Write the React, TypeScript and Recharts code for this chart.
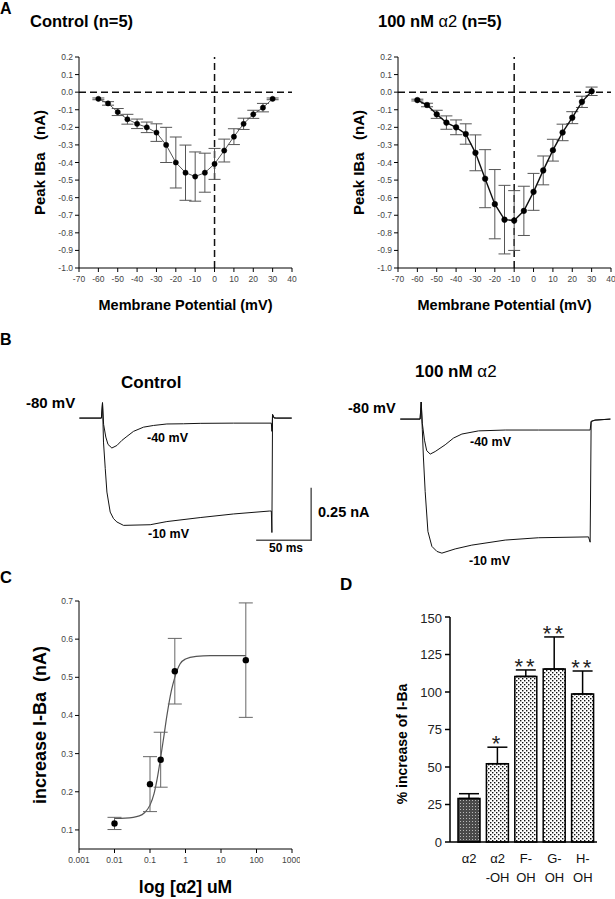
import React from 'react';
import {
  LineChart,
  ComposedChart,
  Line,
  Bar,
  Cell,
  Scatter,
  XAxis,
  YAxis,
  ReferenceLine,
  ErrorBar,
  LabelList,
} from 'recharts';

// ---- Panel A: I-V curves ----
const voltages = [-60, -55, -50, -45, -40, -35, -30, -25, -20, -15, -10, -5, 0, 5, 10, 15, 20, 25, 30];
const controlPeak = [-0.038, -0.064, -0.113, -0.154, -0.18, -0.2, -0.23, -0.3, -0.4, -0.458, -0.48, -0.458, -0.408, -0.332, -0.253, -0.18, -0.126, -0.088, -0.038];
const controlSem = [0.005, 0.01, 0.02, 0.028, 0.027, 0.03, 0.05, 0.1, 0.145, 0.157, 0.14, 0.111, 0.088, 0.065, 0.045, 0.032, 0.023, 0.024, 0.005];
const alphaPeak = [-0.045, -0.073, -0.126, -0.173, -0.2, -0.238, -0.345, -0.492, -0.637, -0.725, -0.73, -0.675, -0.567, -0.445, -0.33, -0.229, -0.145, -0.055, 0.005];
const alphaSem = [0.005, 0.01, 0.023, 0.038, 0.042, 0.058, 0.102, 0.165, 0.197, 0.195, 0.17, 0.14, 0.105, 0.082, 0.062, 0.047, 0.034, 0.032, 0.024];
const ivTicksX = [-70, -60, -50, -40, -30, -20, -10, 0, 10, 20, 30, 40];
const ivTicksY = [0.2, 0.1, 0, -0.1, -0.2, -0.3, -0.4, -0.5, -0.6, -0.7, -0.8, -0.9, -1.0];

// ---- Panel B: current traces (ms, nA) ----
const ctlM40Time = [-21, -1, 0, 1, 3, 5, 8.5, 13.1, 17.6, 22.2, 28.2, 37.3, 46.4, 58.5, 73.7, 88.8, 119, 153.5, 154, 154.6, 156, 158, 172];
const ctlM40Curr = [0, 0, 0.073, -0.03, -0.09, -0.125, -0.142, -0.13, -0.106, -0.087, -0.063, -0.043, -0.035, -0.028, -0.027, -0.025, -0.024, -0.024, -0.063, 0.018, 0.002, 0, 0];
const ctlM10Time = [-21, -1, 0, 0.9, 2.5, 4, 7, 10, 13.1, 19.1, 43.4, 58.5, 88.8, 119, 151.8, 153.5, 154, 154.6, 156, 172];
const ctlM10Curr = [0, 0, 0.073, -0.114, -0.24, -0.351, -0.446, -0.477, -0.493, -0.509, -0.506, -0.491, -0.472, -0.455, -0.441, -0.441, -0.543, 0.015, 0, 0];
const alpM40Time = [-19, -1, 0, 1, 3, 5, 8.2, 12.7, 21.8, 29.4, 37, 52.1, 76.4, 106.7, 153.6, 154.5, 158, 172];
const alpM40Curr = [0, 0, 0.081, -0.02, -0.1, -0.15, -0.166, -0.154, -0.122, -0.09, -0.071, -0.056, -0.052, -0.052, -0.052, -0.011, -0.005, 0];
const alpM10Time = [-19, -1, 0, 1, 2, 3.6, 6.1, 9.7, 14.3, 18.8, 30.9, 46, 76.4, 106.7, 152.1, 153.6, 154.5, 158, 172];
const alpM10Curr = [0, 0, 0.081, -0.05, -0.18, -0.343, -0.533, -0.604, -0.628, -0.636, -0.616, -0.598, -0.574, -0.563, -0.559, -0.584, -0.011, -0.005, 0];
// scale bar: 50 ms x 0.25 nA
const scaleBarTime = [139.7, 189.7, 189.7];
const scaleBarCurr = [-0.58, -0.58, -0.33];

// ---- Panel C: dose response ----
const doses = [0.01, 0.1, 0.2, 0.5, 50];
const doseIncrease = [0.117, 0.22, 0.284, 0.516, 0.545];
const doseSem = [0.016, 0.072, 0.072, 0.086, 0.15];
const fitDoses = [0.01, 0.02, 0.05, 0.07, 0.1, 0.13, 0.16, 0.2, 0.25, 0.3, 0.4, 0.5, 0.7, 1, 2, 5, 50];
const fitIncrease = [0.13, 0.131, 0.137, 0.145, 0.165, 0.195, 0.235, 0.29, 0.35, 0.4, 0.465, 0.5, 0.535, 0.548, 0.555, 0.557, 0.557];
const doseTicks = [0.001, 0.01, 0.1, 1, 10, 100, 1000];
const doseYTicks = [0.1, 0.2, 0.3, 0.4, 0.5, 0.6, 0.7];

// ---- Panel D: bar chart ----
const compounds = ['α2', 'α2\n-OH', 'F-\nOH', 'G-\nOH', 'H-\nOH'];
const pctIncrease = [29, 52.2, 110.4, 115.3, 98.7];
const pctSem = [3.2, 11, 4.3, 21.4, 15.3];
const significance = ['', '*', '**', '**', '**'];
const pctTicks = [0, 25, 50, 75, 100, 125, 150];

const FONT = '"Liberation Sans", Arial, Helvetica, sans-serif';

const ivControl = voltages.map((v, k) => ({ v, i: controlPeak[k], err: controlSem[k] }));
const ivAlpha = voltages.map((v, k) => ({ v, i: alphaPeak[k], err: alphaSem[k] }));
const zip = (t: number[], c: number[]) => t.map((tt, k) => ({ t: tt, i: c[k] }));
const doseData = doses.map((c, k) => ({ c, i: doseIncrease[k], err: doseSem[k] }));
const fitData = fitDoses.map((c, k) => ({ c, i: fitIncrease[k] }));
const barData = compounds.map((name, k) => ({
  name,
  pct: pctIncrease[k],
  errUp: [0, pctSem[k]],
  top: pctIncrease[k] + pctSem[k],
  stars: significance[k],
}));

const tickStyle = { fontSize: 8.5, fill: '#444' };
const axisLabel = { fontSize: 15, fontWeight: 'bold', fill: '#000' };

function IVPanel({ left, data, vLine, color, width, r }: any) {
  return (
    <div style={{ position: 'absolute', left, top: 47 }}>
      <LineChart width={300} height={266} data={data} margin={{ top: 10, right: 8, bottom: 0, left: 0 }}>
        <XAxis
          type="number"
          dataKey="v"
          domain={[-70, 40]}
          ticks={ivTicksX}
          tick={tickStyle}
          tickSize={4}
          tickMargin={4}
          height={45}
          axisLine={{ stroke: '#000' }}
          tickLine={{ stroke: '#000' }}
          label={{ value: 'Membrane Potential (mV)', position: 'insideBottom', offset: 3, ...axisLabel, fontSize: 14.5 }}
        />
        <YAxis
          type="number"
          domain={[-1, 0.2]}
          ticks={ivTicksY}
          tickFormatter={(t: number) => t.toFixed(1)}
          tick={tickStyle}
          tickSize={4}
          tickMargin={2}
          width={79}
          axisLine={{ stroke: '#000' }}
          tickLine={{ stroke: '#000' }}
          label={{ value: 'Peak IBa\u00a0\u00a0\u00a0(nA)', angle: -90, position: 'center', ...axisLabel }}
        />
        <ReferenceLine y={0} stroke="#111" strokeWidth={1.5} strokeDasharray="7 4" />
        <ReferenceLine x={vLine} stroke="#111" strokeWidth={1.5} strokeDasharray="7 4" />
        <Line
          dataKey="i"
          type="linear"
          stroke={color}
          strokeWidth={width}
          dot={{ r, fill: '#000', stroke: '#000', strokeWidth: 0.5 }}
          isAnimationActive={false}
        >
          <ErrorBar dataKey="err" direction="y" width={6} stroke="#555" strokeWidth={1} />
        </Line>
      </LineChart>
    </div>
  );
}

function TracePanel({ left, top, domain, traces, scaleBar }: any) {
  const pxPerMs = 1.1;
  const w = (domain[1] - domain[0]) * pxPerMs;
  const h = 0.8 * 210.8;
  return (
    <div style={{ position: 'absolute', left, top }}>
      <LineChart width={w} height={h} margin={{ top: 0, right: 0, bottom: 0, left: 0 }}>
        <XAxis type="number" dataKey="t" domain={domain} hide allowDataOverflow />
        <YAxis type="number" domain={[-0.7, 0.1]} hide allowDataOverflow />
        {traces.map((d: any, k: number) => (
          <Line key={k} data={d} dataKey="i" type="linear" stroke="#111" strokeWidth={1} dot={false} isAnimationActive={false} />
        ))}
        {scaleBar && (
          <Line data={scaleBar} dataKey="i" type="linear" stroke="#555" strokeWidth={1.5} dot={false} isAnimationActive={false} />
        )}
      </LineChart>
    </div>
  );
}

const CategoryTick = (props: any) => {
  const { x, y, payload } = props;
  const lines = String(payload.value).split('\n');
  return (
    <text x={x} y={y} textAnchor="middle" fontSize={13} fill="#111" fontFamily={FONT}>
      {lines.map((l, k) => (
        <tspan key={k} x={x} dy={k === 0 ? 20.5 : 19}>
          {l}
        </tspan>
      ))}
    </text>
  );
};

const StarLabel = (p: any) => {
  if (!p.value) return null;
  return (
    <text x={p.x} y={p.y + 4} textAnchor="middle" fontSize={22} letterSpacing={3} fill="#222" fontFamily={FONT}>
      {p.value}
    </text>
  );
};

export default function App() {
  const t = (x: number, y: number, s: string, size: number) => (
    <text x={x} y={y} fontSize={size} fontWeight="bold" fill="#000">
      {s}
    </text>
  );
  return (
    <div style={{ position: 'fixed', left: 0, top: 0, width: 615, height: 899, overflow: 'hidden', background: '#fff', fontFamily: FONT }}>
      <svg width={0} height={0} style={{ position: 'absolute' }}>
        <defs>
          <pattern id="dotsLight" width="4" height="4" patternUnits="userSpaceOnUse">
            <rect width="4" height="4" fill="#fff" />
            <rect x="0" y="0" width="1.4" height="1.4" fill="#111" />
            <rect x="2" y="2" width="1.4" height="1.4" fill="#111" />
          </pattern>
          <pattern id="dotsDark" width="3" height="3" patternUnits="userSpaceOnUse">
            <rect width="3" height="3" fill="#4a4a4a" />
            <rect x="1" y="1" width="1" height="1" fill="#b8b8b8" />
          </pattern>
        </defs>
      </svg>

      <IVPanel left={0} data={ivControl} vLine={0} color="#555" width={1} r={2.6} />
      <IVPanel left={319} data={ivAlpha} vLine={-10} color="#111" width={1.4} r={2.8} />

      <TracePanel
        left={102.3 - 25 * 1.1}
        top={417.7 - 21.08}
        domain={[-25, 200]}
        traces={[zip(ctlM40Time, ctlM40Curr), zip(ctlM10Time, ctlM10Curr)]}
        scaleBar={zip(scaleBarTime, scaleBarCurr)}
      />
      <TracePanel
        left={421 - 22 * 1.1}
        top={419.3 - 21.08}
        domain={[-22, 176]}
        traces={[zip(alpM40Time, alpM40Curr), zip(alpM10Time, alpM10Curr)]}
      />

      <div style={{ position: 'absolute', left: 0, top: 591 }}>
        <ComposedChart width={300} height={308} margin={{ top: 10, right: 8, bottom: 0, left: 0 }}>
          <XAxis
            type="number"
            dataKey="c"
            scale="log"
            domain={[0.001, 1000]}
            ticks={doseTicks}
            tickFormatter={(v: number) => String(v)}
            allowDataOverflow
            tick={tickStyle}
            tickSize={4}
            tickMargin={4}
            height={50}
            axisLine={{ stroke: '#000' }}
            tickLine={{ stroke: '#000' }}
            label={{ value: 'log [α2] uM', position: 'insideBottom', offset: 6, ...axisLabel, fontSize: 17.5 }}
          />
          <YAxis
            type="number"
            dataKey="i"
            domain={[0.05, 0.7]}
            ticks={doseYTicks}
            tickFormatter={(v: number) => v.toFixed(1)}
            allowDataOverflow
            tick={tickStyle}
            tickSize={4}
            tickMargin={2}
            width={79}
            axisLine={{ stroke: '#000' }}
            tickLine={{ stroke: '#000' }}
            label={{ value: 'increase I-Ba\u00a0\u00a0(nA)', angle: -90, position: 'center', ...axisLabel, fontSize: 18 }}
          />
          <Line data={fitData} dataKey="i" type="monotone" stroke="#555" strokeWidth={1.2} dot={false} isAnimationActive={false} />
          <Scatter
            data={doseData}
            fill="#000"
            isAnimationActive={false}
            shape={(p: any) => <circle cx={p.cx} cy={p.cy} r={3.2} fill="#000" />}
          >
            <ErrorBar dataKey="err" direction="y" width={7} stroke="#666" strokeWidth={1} />
          </Scatter>
        </ComposedChart>
      </div>

      <div style={{ position: 'absolute', left: 354, top: 610.3 }}>
        <ComposedChart width={248} height={282} data={barData} margin={{ top: 7, right: 5, bottom: 0, left: 0 }}>
          <XAxis
            dataKey="name"
            type="category"
            padding={{ left: 5, right: 0 }}
            tick={<CategoryTick />}
            tickLine={false}
            tickSize={0}
            tickMargin={0}
            height={50}
            interval={0}
            axisLine={{ stroke: '#000', strokeWidth: 1.5 }}
          />
          <YAxis
            type="number"
            domain={[0, 150]}
            ticks={pctTicks}
            tick={{ fontSize: 13, fill: '#222' }}
            tickSize={5}
            tickMargin={3}
            width={96}
            axisLine={{ stroke: '#000', strokeWidth: 1.5 }}
            tickLine={{ stroke: '#000', strokeWidth: 1.5 }}
          />
          <Bar dataKey="pct" barSize={22} stroke="#000" strokeWidth={1.5} isAnimationActive={false}>
            {barData.map((d, k) => (
              <Cell key={k} fill={k === 0 ? 'url(#dotsDark)' : 'url(#dotsLight)'} />
            ))}
            <ErrorBar dataKey="errUp" direction="y" width={10} stroke="#000" strokeWidth={1.5} />
          </Bar>
          <Line dataKey="top" stroke="none" dot={false} activeDot={false} isAnimationActive={false}>
            <LabelList dataKey="stars" content={<StarLabel />} />
          </Line>
        </ComposedChart>
      </div>

      <svg width={615} height={899} style={{ position: 'absolute', left: 0, top: 0, pointerEvents: 'none' }} fontFamily={FONT}>
        {t(0, 14, 'A', 16)}
        <text x={30} y={27} fontSize={16.5} fontWeight="bold">Control (n=5)</text>
        <text x={378} y={27} fontSize={16.5} fontWeight="bold">
          100 nM <tspan fontWeight="normal">α2</tspan> (n=5)
        </text>
        {t(0, 345, 'B', 16)}
        {t(121, 388, 'Control', 17)}
        <text x={415} y={377} fontSize={17} fontWeight="bold">
          100 nM <tspan fontWeight="normal">α2</tspan>
        </text>
        {t(26, 408, '-80 mV', 15)}
        {t(348, 413, '-80 mV', 14.5)}
        {t(147, 442, '-40 mV', 12.5)}
        {t(148, 538, '-10 mV', 12.5)}
        {t(470, 446, '-40 mV', 12.5)}
        {t(469, 565, '-10 mV', 12.5)}
        {t(318, 517, '0.25 nA', 14.5)}
        {t(269, 552, '50 ms', 12)}
        {t(0, 583, 'C', 16.5)}
        {t(340, 590, 'D', 17)}
        <text x={407} y={744} fontSize={14} fontWeight="bold" textAnchor="middle" transform="rotate(-90 407 744)">
          % increase of I-Ba
        </text>
      </svg>
    </div>
  );
}
